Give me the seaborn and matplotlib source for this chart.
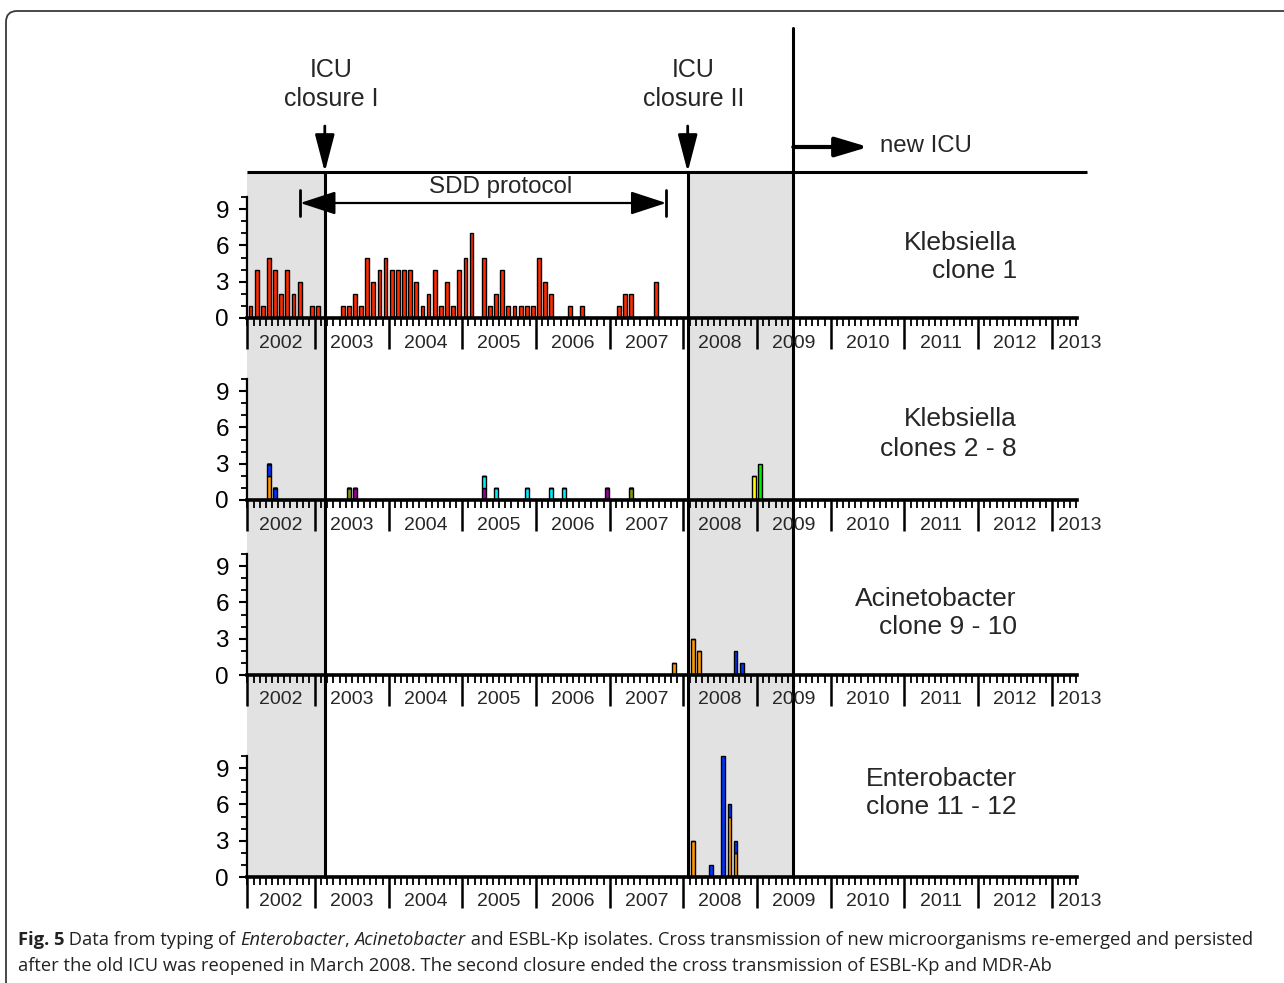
import numpy as np
import pandas as pd
import matplotlib
matplotlib.use("Agg")
import matplotlib.pyplot as plt
import matplotlib.transforms as mtransforms
from matplotlib.patches import FancyBboxPatch
from matplotlib.ticker import FixedLocator
import seaborn as sns

# ---------------- data (month index: 0 = Jan 2002) ----------------
years = list(range(2002, 2014))

kleb1_month = [1, 2, 3, 4, 5, 6, 7, 8, 9, 11, 12,
               16, 17, 18, 19, 20, 21, 22, 23, 24, 25, 26, 27, 28, 29, 30, 31, 32, 33, 34, 35, 36, 37,
               39, 40, 41, 42, 43, 44, 45, 46, 47, 48, 49, 50,
               53, 55, 61, 62, 63, 67]
kleb1_count = [1, 4, 1, 5, 4, 2, 4, 2, 3, 1, 1,
               1, 1, 2, 1, 5, 3, 4, 5, 4, 4, 4, 4, 3, 1, 2, 4, 1, 3, 1, 4, 5, 7,
               5, 1, 2, 4, 1, 1, 1, 1, 1, 5, 3, 2,
               1, 1, 1, 2, 2, 3]

kleb2_month = [4, 4, 5, 17, 18, 39, 39, 41, 46, 50, 52, 59, 63, 83, 84]
kleb2_clone = ["clone 2", "clone 3", "clone 3", "clone 4", "clone 5", "clone 5", "clone 6",
               "clone 6", "clone 6", "clone 6", "clone 6", "clone 5", "clone 4", "clone 7", "clone 8"]
kleb2_count = [2, 1, 1, 1, 1, 1, 1, 1, 1, 1, 1, 1, 1, 2, 3]

acin_month = [70, 73, 74, 80, 81]
acin_clone = ["clone 9", "clone 9", "clone 9", "clone 10", "clone 10"]
acin_count = [1, 3, 2, 2, 1]

entero_month = [73, 76, 78, 79, 79, 80, 80]
entero_clone = ["clone 11", "clone 12", "clone 12", "clone 11", "clone 12", "clone 11", "clone 12"]
entero_count = [3, 1, 10, 5, 1, 2, 1]

# events (month index)
closure1 = 13.1
closure2 = 72.2
new_icu = 89.4
sdd_start = 9.1
sdd_end = 68.7

panel_labels = ["Klebsiella\nclone 1", "Klebsiella\nclones 2 - 8",
                "Acinetobacter\nclone 9 - 10", "Enterobacter\nclone 11 - 12"]

kleb2_palette = {"clone 2": "#ff9900", "clone 3": "#0033ff", "clone 4": "#7f9a10",
                 "clone 5": "#990099", "clone 6": "#00f0ff", "clone 7": "#ffff00",
                 "clone 8": "#00ee00"}
acin_palette = {"clone 9": "#ff9900", "clone 10": "#0033ff"}
entero_palette = {"clone 11": "#ff9900", "clone 12": "#0033ff"}
red = "#ff2a00"
grey = "#e2e2e2"

# ---------------- style ----------------
sns.set_style("ticks")
plt.rcParams["font.family"] = ["Liberation Sans", "DejaVu Sans"]

W, H = 1284, 983
fig = plt.figure(figsize=(W / 100, H / 100), dpi=100)
fig.patch.set_facecolor("white")

XL, XR = 0.43, 135.6
ax_left_px, ax_right_px = 247, 1077
L = ax_left_px / W
Wd = (ax_right_px - ax_left_px) / W
unit_px = 12.1
YTOP = 10.5

# overlay axes in (month, pixel-row) coordinates
ov = fig.add_axes([L, 0, Wd, 1], zorder=0)
ov.set_xlim(XL, XR)
ov.set_ylim(H, 0)
ov.set_axis_off()

baselines = [318, 500, 675, 877]
axes = []
for b in baselines:
    ax = fig.add_axes([L, (H - b) / H, Wd, YTOP * unit_px / H], zorder=2)
    ax.set_facecolor("none")
    axes.append(ax)

# ---------------- bars ----------------
d1 = pd.DataFrame({"month": kleb1_month, "count": kleb1_count})
sns.histplot(data=d1, x="month", weights="count", discrete=True, shrink=0.62,
             color=red, edgecolor="black", linewidth=1, alpha=1, ax=axes[0])

d2 = pd.DataFrame({"month": kleb2_month, "clone": kleb2_clone, "count": kleb2_count})
sns.histplot(data=d2, x="month", weights="count", hue="clone",
             hue_order=["clone 8", "clone 7", "clone 6", "clone 5", "clone 4", "clone 3", "clone 2"],
             palette=kleb2_palette, multiple="stack", discrete=True, shrink=0.62,
             edgecolor="black", linewidth=1, alpha=1, legend=False, ax=axes[1])

d3 = pd.DataFrame({"month": acin_month, "clone": acin_clone, "count": acin_count})
sns.histplot(data=d3, x="month", weights="count", hue="clone",
             hue_order=["clone 10", "clone 9"], palette=acin_palette, multiple="stack",
             discrete=True, shrink=0.62, edgecolor="black", linewidth=1, alpha=1,
             legend=False, ax=axes[2])

d4 = pd.DataFrame({"month": entero_month, "clone": entero_clone, "count": entero_count})
sns.histplot(data=d4, x="month", weights="count", hue="clone",
             hue_order=["clone 12", "clone 11"], palette=entero_palette, multiple="stack",
             discrete=True, shrink=0.62, edgecolor="black", linewidth=1, alpha=1,
             legend=False, ax=axes[3])

# ---------------- axes formatting ----------------
year_bounds = [11.5 + 12 * k for k in range(len(years) - 1)]
for ax in axes:
    ax.set_xlim(XL, XR)
    ax.set_ylim(0, YTOP)
    ax.set_xlabel("")
    ax.set_ylabel("")
    sns.despine(ax=ax)
    ax.spines["left"].set_bounds(0, 10)
    ax.spines["left"].set_linewidth(1.6)
    ax.spines["left"].set_color("black")
    ax.spines["bottom"].set_linewidth(2.6)
    ax.spines["bottom"].set_color("black")
    ax.xaxis.set_major_locator(FixedLocator([XL] + year_bounds))
    ax.xaxis.set_minor_locator(FixedLocator(np.arange(0.5, XR, 1.0)))
    ax.tick_params(axis="x", which="major", length=22, width=1.8, color="black",
                   direction="out", labelbottom=False)
    ax.tick_params(axis="x", which="minor", length=5.5, width=1.3, color="black",
                   direction="out")
    ax.set_yticks([0, 3, 6, 9])
    ax.yaxis.set_minor_locator(FixedLocator(range(0, 11)))
    ax.tick_params(axis="y", which="major", length=6, width=1.5, color="black",
                   labelsize=17.5, pad=7, labelcolor="black")
    ax.tick_params(axis="y", which="minor", length=4, width=1.3, color="black")
    ax.grid(False)
    trans = mtransforms.blended_transform_factory(ax.transData, ax.transAxes)
    yl = -25 / (YTOP * unit_px)
    for i, yr in enumerate(years):
        if i == 0:
            xc = (XL + year_bounds[0]) / 2
            ax.text(xc, yl, str(yr), transform=trans, ha="center", va="center", fontsize=14)
        elif i < len(years) - 1:
            ax.text(year_bounds[i - 1] + 6, yl, str(yr), transform=trans, ha="center",
                    va="center", fontsize=14)
        else:
            ax.text(year_bounds[-1] + 1.0, yl, str(yr), transform=trans, ha="left",
                    va="center", fontsize=14)

# ---------------- overlay: shading, lines, arrows, texts ----------------
top_line, bottom_line = 172, 877
ov.fill_betweenx([top_line, bottom_line], XL, closure1, color=grey, lw=0)
ov.fill_betweenx([top_line, bottom_line], closure2, new_icu, color=grey, lw=0)
ov.plot([XL, 137.2], [top_line, top_line], color="black", lw=2.2, clip_on=False,
        solid_capstyle="butt")
for xv in (closure1, closure2):
    ov.plot([xv, xv], [top_line, bottom_line], color="black", lw=2.2, clip_on=False)
    ov.annotate("", xy=(xv, top_line), xytext=(xv, 126),
                arrowprops=dict(arrowstyle="-|>,head_length=1.15,head_width=0.3",
                                mutation_scale=20, lw=2, color="black",
                                shrinkA=0, shrinkB=0))
ov.plot([new_icu, new_icu], [28, bottom_line], color="black", lw=2.2, clip_on=False)
ov.annotate("", xy=(101.6, 147), xytext=(new_icu, 147),
            arrowprops=dict(arrowstyle="-|>,head_length=1.0,head_width=0.3",
                            mutation_scale=20, lw=3, color="black", shrinkA=0, shrinkB=0))
ov.text(103.5, 146, "new ICU", ha="left", va="center", fontsize=17.3)

ov.text(14.1, 70, "ICU", ha="center", va="center", fontsize=18)
ov.text(14.1, 99, "closure I", ha="center", va="center", fontsize=18)
ov.text(73.1, 70, "ICU", ha="center", va="center", fontsize=18)
ov.text(73.1, 99, "closure II", ha="center", va="center", fontsize=18)

# SDD protocol
ov.annotate("", xy=(sdd_end, 203), xytext=(sdd_start, 203),
            arrowprops=dict(arrowstyle="<|-|>,head_length=1.1,head_width=0.36",
                            mutation_scale=20, lw=1.6, color="black", shrinkA=0, shrinkB=0))
for xv in (sdd_start, sdd_end):
    ov.plot([xv, xv], [190, 216], color="black", lw=2)
ov.text(41.8, 187, "SDD protocol", ha="center", va="center", fontsize=17.4)

# panel labels
label_y = [257, 434, 613, 793]
label_ls = [1.2, 1.3, 1.25, 1.25]
for lab, yy, ls in zip(panel_labels, label_y, label_ls):
    ov.text(125.8, yy, lab, ha="right", va="center", multialignment="right",
            fontsize=19, linespacing=ls)

# ---------------- frame ----------------
frame = FancyBboxPatch((6, -40), 1400, H - 10 + 40 - 1, transform=mtransforms.IdentityTransform(),
                       boxstyle="round,pad=0,rounding_size=11", fill=False,
                       edgecolor="#3a3a3a", lw=1.3)
fig.patches.append(frame)

# ---------------- caption ----------------
cap_font = ["Open Sans", "DejaVu Sans"]
cfs = 13.2
cap_color = "#222222"
prev = fig.text(18 / W, (H - 940) / H, "Fig. 5", ha="left", va="center", fontsize=cfs,
                family=cap_font, weight="bold", color=cap_color)
segs = [(" Data from typing of ", "normal"), ("Enterobacter", "italic"), (", ", "normal"),
        ("Acinetobacter", "italic"),
        (" and ESBL-Kp isolates. Cross transmission of new microorganisms re-emerged and persisted",
         "normal")]
for s, st in segs:
    prev = fig.add_artist(matplotlib.text.Annotation(
        s, xy=(1, 0), xycoords=prev, ha="left", va="bottom", fontsize=cfs,
        family=cap_font, style=st, color=cap_color, annotation_clip=False))
fig.text(18 / W, (H - 966) / H,
         "after the old ICU was reopened in March 2008. The second closure ended the cross "
         "transmission of ESBL-Kp and MDR-Ab", ha="left", va="center", fontsize=cfs,
         family=cap_font, color=cap_color)

fig.savefig("out.png", dpi=100, facecolor="white")
